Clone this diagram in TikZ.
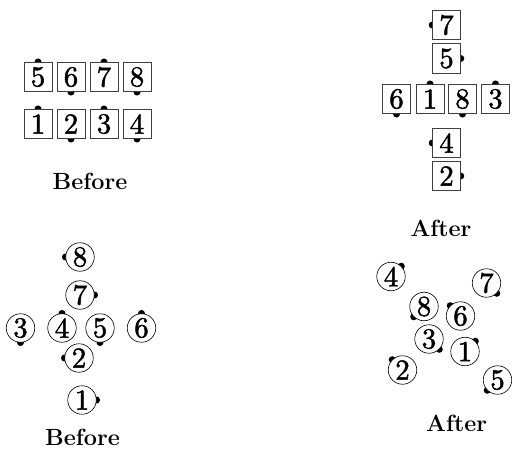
\documentclass[tikz,border=0pt]{standalone}
\usepackage{fontspec}
\newfontfamily\digfont[FakeBold=1.6]{lmroman10-regular.otf}
\usetikzlibrary{backgrounds}
\tikzset{
  sq/.style={draw=black!75, line width=0.6bp, fill=white, minimum width=28bp, minimum height=29.5bp, inner sep=0pt, font=\digfont\fontsize{29}{29}\selectfont},
  cir/.style={draw=black, circle, line width=0.6bp, fill=white, minimum size=28.5bp, inner sep=0pt, font=\digfont\fontsize{29}{29}\selectfont},
  lbl/.style={anchor=base, inner sep=0pt, font=\fontsize{23.5}{23.5}\selectfont\bfseries},
}
\newcommand{\mydot}[1]{\fill (#1) circle (3.5bp);}
\begin{document}
\begin{tikzpicture}[x=1bp,y=-1bp]
\useasboundingbox (0,0) rectangle (512,449);
% Top-left: squares before
\node[sq] (a5) at (38,77) {5};
\node[sq] (a6) at (71,77) {6};
\node[sq] (a7) at (104,77) {7};
\node[sq] (a8) at (137,77) {8};
\node[sq] (a1) at (38,124) {1};
\node[sq] (a2) at (71,124) {2};
\node[sq] (a3) at (104,124) {3};
\node[sq] (a4) at (137,124) {4};
\node[lbl] (la) at (90,190) {Before};
% Top-right: squares after
\node[sq] (b7) at (446.5,25) {7};
\node[sq] (b5) at (446.5,58.5) {5};
\node[sq] (b6) at (396.5,99) {6};
\node[sq] (b1) at (430,99) {1};
\node[sq] (b8) at (462.5,99) {8};
\node[sq] (b3) at (495.5,99) {3};
\node[sq] (b4) at (446.5,143) {4};
\node[sq] (b2) at (446.5,176) {2};
\node[lbl] (lb) at (441,237) {After};
% Bottom-left: circles before
\node[cir] (c8) at (80,257) {8};
\node[cir] (c7) at (80,295) {7};
\node[cir] (c3) at (20.5,328) {3};
\node[cir] (c4) at (62,328) {4};
\node[cir] (c5) at (100,328) {5};
\node[cir] (c6) at (141.5,328) {6};
\node[cir] (c2) at (79,358) {2};
\node[cir] (c1) at (82,400) {1};
\node[lbl] (lc) at (82.5,445) {Before};
% Bottom-right: circles after
\node[cir] (d4) at (391,276.5) {4};
\node[cir] (d7) at (486.5,283) {7};
\node[cir] (d8) at (424,306.5) {8};
\node[cir] (d6) at (460.5,316) {6};
\node[cir] (d3) at (429,339) {3};
\node[cir] (d1) at (465,351.5) {1};
\node[cir] (d2) at (402.5,370) {2};
\node[cir] (d5) at (497.5,380) {5};
\node[lbl] (ld) at (456.7,431) {After};
\begin{scope}[on background layer]
\mydot{a5.north}\mydot{a6.south}\mydot{a7.north}\mydot{a8.south}
\mydot{a1.north}\mydot{a2.south}\mydot{a3.north}\mydot{a4.south}
\mydot{b7.west}\mydot{b5.east}\mydot{b6.south}\mydot{b1.north}
\mydot{b8.south}\mydot{b3.north}\mydot{b4.west}\mydot{b2.east}
\mydot{c8.west}\mydot{c7.east}\mydot{c3.south}\mydot{c4.north}
\mydot{c5.south}\mydot{c6.north}\mydot{c2.west}\mydot{c1.east}
\mydot{d4.north east}\mydot{d7.south east}\mydot{d8.south west}\mydot{d6.north west}
\mydot{d3.south east}\mydot{d1.north east}\mydot{d2.north west}\mydot{d5.south west}
\end{scope}
\end{tikzpicture}
\end{document}
